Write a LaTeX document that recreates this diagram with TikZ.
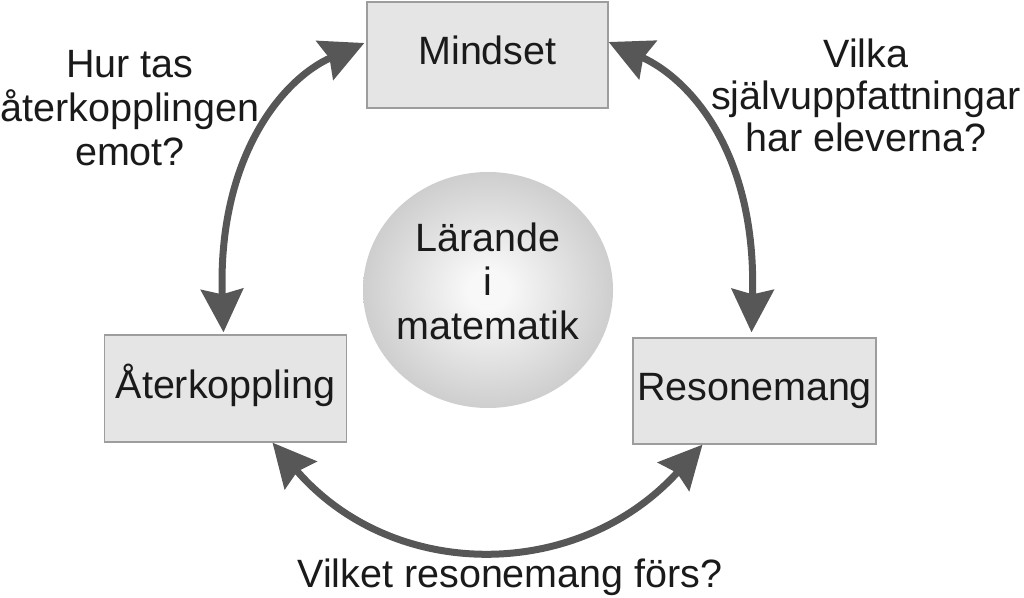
\documentclass[tikz,border=0pt]{standalone}
\usepackage{fontspec}
\setmainfont{Liberation Sans}
\usetikzlibrary{arrows.meta,shapes.geometric}
\definecolor{arrowgray}{HTML}{575757}
\definecolor{boxfill}{HTML}{E5E5E5}
\definecolor{boxline}{HTML}{9D9D9D}
\definecolor{txt}{HTML}{1A1A1A}
\definecolor{sphin}{HTML}{F8F8F8}
\definecolor{sphout}{HTML}{9C9C9C}
\pgfdeclareradialshading{sphereshade}{\pgfpoint{0bp}{0bp}}{color(0bp)=(sphin); color(4bp)=(sphin); color(50bp)=(sphout)}
\begin{document}
\begin{tikzpicture}[x=1pt,y=1pt,
  every node/.style={font=\fontsize{39.5}{44}\selectfont, text=txt},
  stepbox/.style={draw=boxline, line width=1.3pt, fill=boxfill, minimum width=241pt, minimum height=106pt, inner sep=0pt, text height=20pt, text depth=0pt},
  cyc/.style={draw=arrowgray, line width=7pt, {Stealth[length=43pt,width=42pt,inset=5pt]}-{Stealth[length=43pt,width=42pt,inset=5pt]}},
  q/.style={align=center}]
\useasboundingbox (0,0) rectangle (1024,597);
\node[stepbox] (mind) at (487.5,542) {Mindset};
\node[stepbox, minimum width=242pt, minimum height=107pt] (ater) at (225.5,208.5) {Återkoppling};
\node[stepbox, minimum width=243pt] (reson) at (754.5,206) {Resonemang};
\node[ellipse, minimum width=250pt, minimum height=236pt, inner sep=0pt, shading=sphereshade] (ball) at (488,307) {};
\node[q] (learn) at (488,315.4) {Lärande\\i\\matematik};
\node[q] (qa) at (130,489.2) {Hur tas\\återkopplingen\\emot?};
\node[q, font=\fontsize{39.5}{42}\selectfont] (qb) at (866,501.4) {Vilka\\självuppfattningar\\har eleverna?};
\node[anchor=base] (qc) at (510,10) {Vilket resonemang förs?};
\draw[cyc] ([xshift=-2pt,yshift=2pt]ater.north) .. controls +(-6,175) and +(-82,-36) .. ([xshift=-2pt,yshift=12pt]mind.west);
\draw[cyc] ([yshift=13pt]mind.east) .. controls +(83,-38) and +(5,178) .. ([xshift=-3pt,yshift=5pt]reson.north);
\draw[cyc] ([xshift=47pt]ater.south) .. controls +(121,-140) and +(-124,-137) .. ([xshift=-52pt]reson.south);
\end{tikzpicture}
\end{document}
